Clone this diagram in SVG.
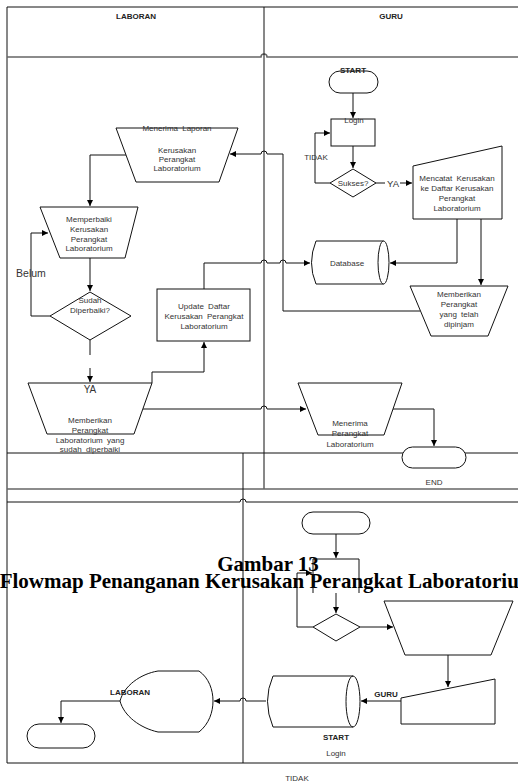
<svg xmlns="http://www.w3.org/2000/svg" width="518" height="782" viewBox="0 0 518 782">
  <style>
    .frame { fill: none; stroke: #111; stroke-width: 1; }
    .frame-gray { fill: none; stroke: #666; stroke-width: 1.5; }
    .shape { fill: #fff; stroke: #111; stroke-width: 1; }
    .conn { fill: none; stroke: #111; stroke-width: 1; }
    .arr { marker-end: url(#arrow); }
    .lbl { font-family: "Liberation Sans", Arial, sans-serif; font-size: 8px; fill: #333; text-anchor: middle; }
    .bold { font-weight: bold; fill: #222; }
    .big { font-size: 10px; }
    .title { font-family: "Liberation Serif", "Times New Roman", serif; font-size: 21px; font-weight: bold; fill: #000; text-anchor: middle; }
  </style>
  <defs>
    <marker id="arrow" viewBox="0 0 10 10" refX="10" refY="5" markerWidth="7" markerHeight="6" markerUnits="userSpaceOnUse" orient="auto">
      <path d="M0,0 L10,5 L0,10 z" fill="#000"/>
    </marker>
  </defs>
  <rect x="0" y="0" width="518" height="782" fill="#fff"/>

  <!-- swimlane frame -->
  <g id="frame">
    <path class="frame" d="M7,7 H518"/>
    <path class="frame" d="M7,7 V763"/>
    <path class="frame-gray" d="M7,57 H261 A3,3 0 0 1 267,57 H518"/>
    <path class="frame" d="M264,7 V489"/>
    <path class="frame" stroke="#444" d="M7,453 H518"/>
    <path class="frame-gray" d="M7,489 H518"/>
    <path class="frame" d="M7,502 H240 A3,3 0 0 1 246,502 H518"/>
    <path class="frame" d="M243,453 V763"/>
    <path class="frame" d="M7,763 H518"/>
    <text class="lbl bold" x="136" y="19">LABORAN</text>
    <text class="lbl bold" x="391" y="19">GURU</text>
  </g>

  <!-- connectors -->
  <g id="connectors">
    <path class="conn arr" d="M126,155 H90 V206"/>
    <path class="conn arr" d="M90,258 V291"/>
    <path class="conn arr" d="M50,316 H31 V233 H48"/>
    <path class="conn" d="M90,340 V355"/>
    <path class="conn arr" d="M90,368 V382"/>
    <path class="conn arr" d="M152,383 V372 H204 V342"/>
    <path class="conn arr" d="M204,289 V263 H261 A3,3 0 0 1 267,263 H280 A3,3 0 0 1 286,263 H310"/>
    <path class="conn arr" d="M143,409 H261 A3,3 0 0 1 267,409 H306"/>
    <path class="conn arr" d="M393,409 H434 V446"/>
    <path class="conn arr" d="M353,93 V118"/>
    <path class="conn arr" d="M353,146 V168"/>
    <path class="conn arr" d="M330,183 H315 V133 H330"/>
    <path class="conn" d="M376,183 H385"/>
    <path class="conn arr" d="M400,183 H412"/>
    <path class="conn arr" d="M457,219 V263 H390"/>
    <path class="conn arr" d="M481,219 V285"/>
    <path class="conn arr" d="M420,311 H283 V154 H267 A3,3 0 0 0 261,154 H230"/>
    <path class="conn arr" d="M336,534 V558"/>
    <path class="conn arr" d="M336,593 V613"/>
    <path class="conn arr" d="M313,627 H297 V573 H312"/>
    <path class="conn arr" d="M360,627 H393"/>
    <path class="conn arr" d="M448,655 V687"/>
    <path class="conn arr" d="M401,701 H361"/>
    <path class="conn arr" d="M266,701 H246 A3,3 0 0 0 240,701 H214"/>
    <path class="conn arr" d="M120,701 H61 V723"/>
  </g>

  <!-- LABORAN lane -->
  <g id="menerima-laporan">
    <polygon class="shape" points="116,128 238,128 219,182 136,182"/>
    <text class="lbl" x="177" y="131" word-spacing="2">Menerima Laporan</text>
    <text class="lbl" x="177" y="153">Kerusakan</text>
    <text class="lbl" x="177" y="162">Perangkat</text>
    <text class="lbl" x="177" y="171">Laboratorium</text>
  </g>
  <g id="memperbaiki">
    <polygon class="shape" points="40,207 138,207 125,258 60,258"/>
    <text class="lbl" x="89" y="222">Memperbaiki</text>
    <text class="lbl" x="89" y="232">Kerusakan</text>
    <text class="lbl" x="89" y="242">Perangkat</text>
    <text class="lbl" x="89" y="251">Laboratorium</text>
  </g>
  <g id="sudah-diperbaiki">
    <polygon class="shape" points="90,292 131,316 90,340 50,316"/>
    <text class="lbl" x="90" y="303">Sudah</text>
    <text class="lbl" x="90" y="313">Diperbaiki?</text>
  </g>
  <g id="label-belum">
    <text class="lbl" x="31" y="277" font-size="10.5" style="font-size:10.5px">Belum</text>
  </g>
  <g id="memberikan-diperbaiki">
    <polygon class="shape" points="28,383 152,383 134,434 47,434"/>
    <text class="lbl big" x="90" y="393">YA</text>
    <text class="lbl" x="90" y="423">Memberikan</text>
    <text class="lbl" x="90" y="433">Perangkat</text>
    <text class="lbl" x="90" y="443" word-spacing="2">Laboratorium yang</text>
    <text class="lbl" x="90" y="452" word-spacing="2">sudah diperbaiki</text>
  </g>
  <g id="update-daftar">
    <rect class="shape" x="157" y="289" width="93" height="52"/>
    <text class="lbl" x="204" y="309" word-spacing="2">Update Daftar</text>
    <text class="lbl" x="204" y="319" word-spacing="2">Kerusakan Perangkat</text>
    <text class="lbl" x="204" y="329">Laboratorium</text>
  </g>

  <!-- GURU lane -->
  <g id="start">
    <rect class="shape" x="329" y="71" width="49" height="22" rx="11"/>
    <text class="lbl bold" x="353" y="73">START</text>
  </g>
  <g id="login">
    <rect class="shape" x="331" y="119" width="44" height="27"/>
    <text class="lbl" x="354" y="123">Login</text>
  </g>
  <g id="sukses">
    <polygon class="shape" points="353,169 376,183 353,197 330,183"/>
    <text class="lbl" x="353" y="186">Sukses?</text>
  </g>
  <g id="label-tidak-ya">
    <text class="lbl" x="316" y="160">TIDAK</text>
    <text class="lbl" x="393" y="186.5" style="font-size:9.5px">YA</text>
  </g>
  <g id="mencatat">
    <polygon class="shape" points="413,166 502,146 502,219 413,219"/>
    <text class="lbl" x="457" y="181" word-spacing="2">Mencatat Kerusakan</text>
    <text class="lbl" x="457" y="191">ke Daftar Kerusakan</text>
    <text class="lbl" x="457" y="201">Perangkat</text>
    <text class="lbl" x="457" y="211">Laboratorium</text>
  </g>
  <g id="database">
    <path class="shape" d="M316,241 H383.5 A5.5,21.5 0 0 1 383.5,284 H316 Q307,263 316,241 Z"/>
    <path class="conn" d="M383.5,241 A5.5,21.5 0 0 0 383.5,284"/>
    <text class="lbl" x="347" y="266">Database</text>
  </g>
  <g id="memberikan-dipinjam">
    <polygon class="shape" points="410,286 508,286 488,336 431,336"/>
    <text class="lbl" x="459" y="297">Memberikan</text>
    <text class="lbl" x="459" y="307">Perangkat</text>
    <text class="lbl" x="459" y="317" word-spacing="2">yang telah</text>
    <text class="lbl" x="459" y="327">dipinjam</text>
  </g>
  <g id="menerima-perangkat">
    <polygon class="shape" points="298,383 402,383 384,435 318,435"/>
    <text class="lbl" x="350" y="426">Menerima</text>
    <text class="lbl" x="350" y="436">Perangkat</text>
    <text class="lbl" x="350" y="447">Laboratorium</text>
  </g>
  <g id="end">
    <rect class="shape" x="402" y="447" width="64" height="21" rx="10.5"/>
    <text class="lbl" x="434" y="485">END</text>
  </g>

  <!-- caption -->
  <g id="caption">
    <text class="title" x="268" y="571">Gambar 13</text>
    <text class="title" x="268" y="588">Flowmap Penanganan Kerusakan Perangkat Laboratorium</text>
  </g>

  <!-- lower section -->
  <g id="terminal-top">
    <rect class="shape" x="302" y="512" width="68" height="22" rx="11"/>
  </g>
  <g id="process-box">
    <path class="conn" d="M313,593 V559 H359 V593"/>
  </g>
  <g id="decision">
    <polygon class="shape" points="336,614 360,627 336,641 313,627"/>
  </g>
  <g id="manual-op">
    <polygon class="shape" points="384,601 513,601 491,655 405,655"/>
  </g>
  <g id="manual-input">
    <polygon class="shape" points="401,698 495,679 495,724 401,724"/>
  </g>
  <g id="storage">
    <path class="shape" d="M273,676 H353 A7,25.5 0 0 1 353,727 H273 Q262,701 273,676 Z"/>
    <path class="conn" d="M353,676 A7,25.5 0 0 0 353,727"/>
  </g>
  <g id="display">
    <path class="shape" d="M158,671 L199,671 C209,678 213,690 213,701 C213,712 209,724 199,732 L158,732 C140,728 124,716 120,701 C124,686 140,674 158,671 Z"/>
  </g>
  <g id="terminal-bottom">
    <rect class="shape" x="27" y="724" width="68" height="24" rx="12"/>
  </g>
  <g id="lower-labels">
    <text class="lbl bold" x="130" y="695">LABORAN</text>
    <text class="lbl bold" x="386" y="697">GURU</text>
    <text class="lbl bold" x="336" y="740">START</text>
    <text class="lbl" x="336" y="756">Login</text>
    <text class="lbl" x="297" y="781">TIDAK</text>
  </g>
</svg>
